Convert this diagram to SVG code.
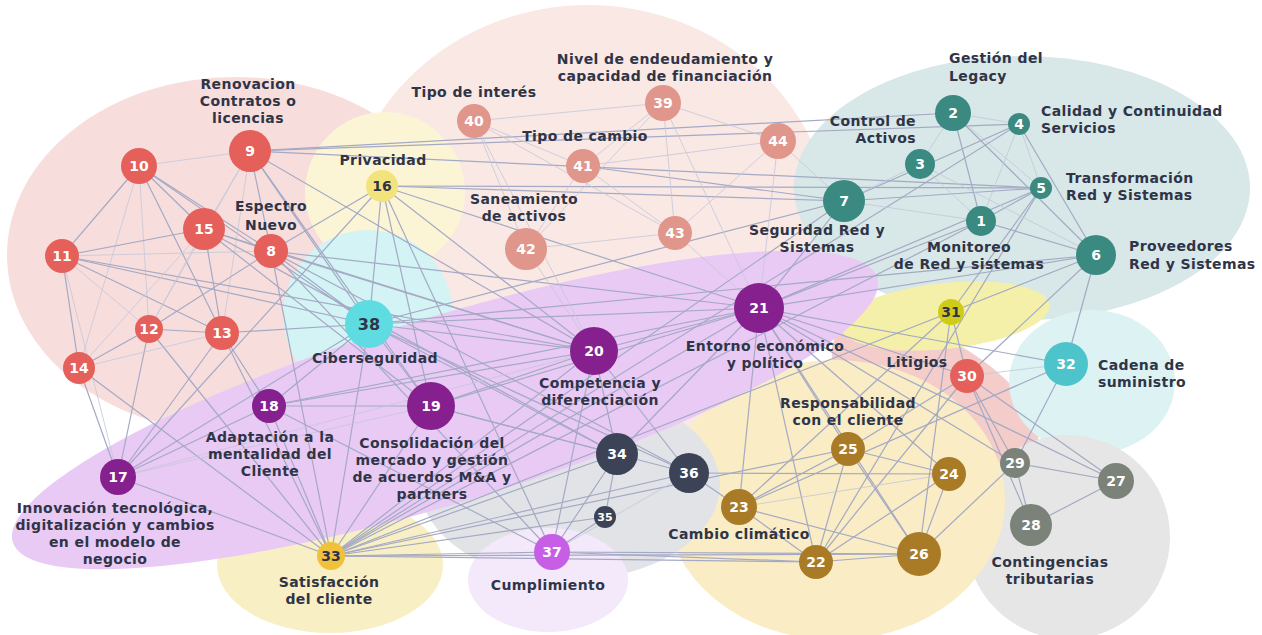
<svg xmlns="http://www.w3.org/2000/svg" width="1262" height="635" viewBox="0 0 1262 635">
<style>
.e{stroke:#a4a9c4;stroke-width:1.2;fill:none}
.f{stroke:#c4c7d9;stroke-width:0.8;fill:none}
.lbl{font-family:"DejaVu Sans","Liberation Sans",sans-serif;font-weight:700;font-size:14px;letter-spacing:0.4px;fill:#2f3447;text-anchor:middle}
.lft{text-anchor:start}
.rgt{text-anchor:end}
.num{font-family:"DejaVu Sans","Liberation Sans",sans-serif;font-weight:700;font-size:14px;fill:#ffffff;text-anchor:middle}
.dk{fill:#2f3447}
.red{fill:#e5605a}.sal{fill:#e0968b}.teal{fill:#3a8a82}.pur{fill:#86208f}.navy{fill:#3c4357}.gold{fill:#a97b27}.grey{fill:#7a8279}
</style>
<g id="backgrounds">
<ellipse cx="235" cy="255" rx="228" ry="178" fill="#f7dedd"/>
<ellipse cx="588" cy="235" rx="245" ry="230" fill="#fae8e5"/>
<ellipse cx="1022" cy="188" rx="228" ry="132" fill="#d8e7e7"/>
<circle cx="385" cy="192" r="80" fill="#fbf5d6"/>
<circle cx="368" cy="315" r="85" fill="#d3f3f5"/>
<ellipse cx="935" cy="395" rx="115" ry="55" transform="rotate(30 935 395)" fill="#f4cdcb"/>
<ellipse cx="945" cy="316" rx="105" ry="33" transform="rotate(-6 945 316)" fill="#f4f0aa"/>
<ellipse cx="1092" cy="382" rx="83" ry="72" fill="#dcf2f3"/>
<circle cx="1068" cy="537" r="102" fill="#e6e6e6"/>
<ellipse cx="835" cy="500" rx="170" ry="140" fill="#faecc4"/>
<ellipse cx="570" cy="485" rx="150" ry="95" fill="#e2e3e7"/>
<ellipse cx="548" cy="580" rx="80" ry="52" fill="#f3e9fa"/>
<ellipse cx="330" cy="565" rx="113" ry="68" fill="#f9efc4"/>
<ellipse cx="445" cy="410" rx="452" ry="93" transform="rotate(-17 445 410)" fill="#e9caf5"/>
</g>
<g id="connectors">
<line class="f" x1="139" y1="166" x2="250" y2="151"/>
<line class="e" x1="139" y1="166" x2="62" y2="256"/>
<line class="e" x1="139" y1="166" x2="204" y2="229"/>
<line class="e" x1="139" y1="166" x2="222" y2="333"/>
<line class="e" x1="139" y1="166" x2="271" y2="251"/>
<line class="f" x1="139" y1="166" x2="149" y2="329"/>
<line class="f" x1="139" y1="166" x2="79" y2="368"/>
<line class="e" x1="139" y1="166" x2="369" y2="324"/>
<line class="e" x1="250" y1="151" x2="271" y2="251"/>
<line class="f" x1="250" y1="151" x2="204" y2="229"/>
<line class="f" x1="250" y1="151" x2="149" y2="329"/>
<line class="f" x1="250" y1="151" x2="222" y2="333"/>
<line class="e" x1="250" y1="151" x2="1019" y2="124"/>
<line class="e" x1="250" y1="151" x2="1041" y2="188"/>
<line class="e" x1="250" y1="151" x2="594" y2="351"/>
<line class="e" x1="250" y1="151" x2="369" y2="324"/>
<line class="e" x1="250" y1="151" x2="431" y2="406"/>
<line class="e" x1="62" y1="256" x2="204" y2="229"/>
<line class="e" x1="62" y1="256" x2="222" y2="333"/>
<line class="f" x1="62" y1="256" x2="149" y2="329"/>
<line class="e" x1="62" y1="256" x2="79" y2="368"/>
<line class="e" x1="62" y1="256" x2="369" y2="324"/>
<line class="e" x1="62" y1="256" x2="594" y2="351"/>
<line class="f" x1="62" y1="256" x2="118" y2="477"/>
<line class="f" x1="62" y1="256" x2="271" y2="251"/>
<line class="e" x1="204" y1="229" x2="271" y2="251"/>
<line class="e" x1="204" y1="229" x2="222" y2="333"/>
<line class="f" x1="204" y1="229" x2="149" y2="329"/>
<line class="e" x1="204" y1="229" x2="431" y2="406"/>
<line class="e" x1="204" y1="229" x2="617" y2="454"/>
<line class="e" x1="204" y1="229" x2="594" y2="351"/>
<line class="f" x1="204" y1="229" x2="79" y2="368"/>
<line class="e" x1="271" y1="251" x2="149" y2="329"/>
<line class="e" x1="271" y1="251" x2="759" y2="308"/>
<line class="e" x1="271" y1="251" x2="369" y2="324"/>
<line class="e" x1="271" y1="251" x2="331" y2="556"/>
<line class="e" x1="271" y1="251" x2="594" y2="351"/>
<line class="e" x1="271" y1="251" x2="689" y2="473"/>
<line class="e" x1="271" y1="251" x2="552" y2="552"/>
<line class="e" x1="149" y1="329" x2="222" y2="333"/>
<line class="e" x1="149" y1="329" x2="79" y2="368"/>
<line class="e" x1="149" y1="329" x2="118" y2="477"/>
<line class="e" x1="149" y1="329" x2="331" y2="556"/>
<line class="e" x1="222" y1="333" x2="369" y2="324"/>
<line class="e" x1="222" y1="333" x2="118" y2="477"/>
<line class="e" x1="222" y1="333" x2="269" y2="406"/>
<line class="e" x1="222" y1="333" x2="331" y2="556"/>
<line class="f" x1="222" y1="333" x2="79" y2="368"/>
<line class="e" x1="79" y1="368" x2="118" y2="477"/>
<line class="e" x1="79" y1="368" x2="331" y2="556"/>
<line class="e" x1="382" y1="186" x2="369" y2="324"/>
<line class="e" x1="382" y1="186" x2="271" y2="251"/>
<line class="e" x1="382" y1="186" x2="118" y2="477"/>
<line class="e" x1="382" y1="186" x2="844" y2="201"/>
<line class="e" x1="382" y1="186" x2="1041" y2="188"/>
<line class="e" x1="382" y1="186" x2="594" y2="351"/>
<line class="e" x1="382" y1="186" x2="552" y2="552"/>
<line class="e" x1="382" y1="186" x2="431" y2="406"/>
<line class="e" x1="382" y1="186" x2="759" y2="308"/>
<line class="e" x1="369" y1="324" x2="594" y2="351"/>
<line class="e" x1="369" y1="324" x2="759" y2="308"/>
<line class="e" x1="369" y1="324" x2="844" y2="201"/>
<line class="e" x1="369" y1="324" x2="431" y2="406"/>
<line class="e" x1="369" y1="324" x2="331" y2="556"/>
<line class="e" x1="369" y1="324" x2="617" y2="454"/>
<line class="e" x1="369" y1="324" x2="689" y2="473"/>
<line class="e" x1="369" y1="324" x2="269" y2="406"/>
<line class="e" x1="269" y1="406" x2="118" y2="477"/>
<line class="e" x1="269" y1="406" x2="431" y2="406"/>
<line class="e" x1="269" y1="406" x2="331" y2="556"/>
<line class="e" x1="269" y1="406" x2="594" y2="351"/>
<line class="e" x1="269" y1="406" x2="759" y2="308"/>
<line class="e" x1="118" y1="477" x2="331" y2="556"/>
<line class="f" x1="118" y1="477" x2="594" y2="351"/>
<line class="f" x1="118" y1="477" x2="431" y2="406"/>
<line class="e" x1="118" y1="477" x2="369" y2="324"/>
<line class="e" x1="431" y1="406" x2="594" y2="351"/>
<line class="e" x1="431" y1="406" x2="331" y2="556"/>
<line class="e" x1="431" y1="406" x2="759" y2="308"/>
<line class="e" x1="431" y1="406" x2="689" y2="473"/>
<line class="e" x1="431" y1="406" x2="617" y2="454"/>
<line class="e" x1="594" y1="351" x2="759" y2="308"/>
<line class="e" x1="594" y1="351" x2="331" y2="556"/>
<line class="e" x1="594" y1="351" x2="617" y2="454"/>
<line class="e" x1="594" y1="351" x2="689" y2="473"/>
<line class="e" x1="594" y1="351" x2="552" y2="552"/>
<line class="f" x1="594" y1="351" x2="526" y2="249"/>
<line class="e" x1="759" y1="308" x2="844" y2="201"/>
<line class="e" x1="759" y1="308" x2="1066" y2="364"/>
<line class="e" x1="759" y1="308" x2="967" y2="376"/>
<line class="e" x1="759" y1="308" x2="1116" y2="481"/>
<line class="e" x1="759" y1="308" x2="919" y2="554"/>
<line class="e" x1="759" y1="308" x2="816" y2="562"/>
<line class="e" x1="759" y1="308" x2="739" y2="507"/>
<line class="e" x1="759" y1="308" x2="331" y2="556"/>
<line class="e" x1="759" y1="308" x2="1041" y2="188"/>
<line class="e" x1="759" y1="308" x2="1096" y2="255"/>
<line class="e" x1="759" y1="308" x2="949" y2="474"/>
<line class="e" x1="759" y1="308" x2="981" y2="221"/>
<line class="e" x1="759" y1="308" x2="848" y2="449"/>
<line class="e" x1="759" y1="308" x2="617" y2="454"/>
<line class="e" x1="759" y1="308" x2="1015" y2="463"/>
<line class="f" x1="759" y1="308" x2="675" y2="233"/>
<line class="f" x1="759" y1="308" x2="778" y2="141"/>
<line class="f" x1="953" y1="113" x2="1019" y2="124"/>
<line class="f" x1="953" y1="113" x2="920" y2="164"/>
<line class="e" x1="953" y1="113" x2="981" y2="221"/>
<line class="e" x1="953" y1="113" x2="1096" y2="255"/>
<line class="f" x1="953" y1="113" x2="1041" y2="188"/>
<line class="e" x1="953" y1="113" x2="250" y2="151"/>
<line class="f" x1="1019" y1="124" x2="1041" y2="188"/>
<line class="e" x1="1019" y1="124" x2="1096" y2="255"/>
<line class="e" x1="1019" y1="124" x2="844" y2="201"/>
<line class="f" x1="1019" y1="124" x2="981" y2="221"/>
<line class="e" x1="1019" y1="124" x2="331" y2="556"/>
<line class="e" x1="1041" y1="188" x2="844" y2="201"/>
<line class="e" x1="1041" y1="188" x2="981" y2="221"/>
<line class="e" x1="1041" y1="188" x2="951" y2="312"/>
<line class="e" x1="1041" y1="188" x2="816" y2="562"/>
<line class="e" x1="981" y1="221" x2="1096" y2="255"/>
<line class="f" x1="981" y1="221" x2="844" y2="201"/>
<line class="e" x1="981" y1="221" x2="331" y2="556"/>
<line class="e" x1="1096" y1="255" x2="1066" y2="364"/>
<line class="e" x1="1096" y1="255" x2="951" y2="312"/>
<line class="e" x1="1096" y1="255" x2="967" y2="376"/>
<line class="e" x1="1096" y1="255" x2="369" y2="324"/>
<line class="f" x1="920" y1="164" x2="981" y2="221"/>
<line class="f" x1="920" y1="164" x2="844" y2="201"/>
<line class="f" x1="920" y1="164" x2="1096" y2="255"/>
<line class="e" x1="844" y1="201" x2="331" y2="556"/>
<line class="e" x1="844" y1="201" x2="583" y2="166"/>
<line class="f" x1="844" y1="201" x2="778" y2="141"/>
<line class="e" x1="951" y1="312" x2="967" y2="376"/>
<line class="e" x1="951" y1="312" x2="331" y2="556"/>
<line class="e" x1="951" y1="312" x2="919" y2="554"/>
<line class="e" x1="951" y1="312" x2="739" y2="507"/>
<line class="e" x1="967" y1="376" x2="1015" y2="463"/>
<line class="e" x1="967" y1="376" x2="1031" y2="525"/>
<line class="e" x1="967" y1="376" x2="1116" y2="481"/>
<line class="e" x1="967" y1="376" x2="816" y2="562"/>
<line class="f" x1="967" y1="376" x2="1066" y2="364"/>
<line class="e" x1="967" y1="376" x2="848" y2="449"/>
<line class="e" x1="1066" y1="364" x2="1015" y2="463"/>
<line class="e" x1="1066" y1="364" x2="739" y2="507"/>
<line class="e" x1="1015" y1="463" x2="1116" y2="481"/>
<line class="e" x1="1015" y1="463" x2="1031" y2="525"/>
<line class="e" x1="1031" y1="525" x2="1116" y2="481"/>
<line class="e" x1="1015" y1="463" x2="919" y2="554"/>
<line class="e" x1="848" y1="449" x2="919" y2="554"/>
<line class="e" x1="848" y1="449" x2="816" y2="562"/>
<line class="e" x1="848" y1="449" x2="739" y2="507"/>
<line class="e" x1="848" y1="449" x2="949" y2="474"/>
<line class="e" x1="848" y1="449" x2="331" y2="556"/>
<line class="e" x1="739" y1="507" x2="919" y2="554"/>
<line class="e" x1="739" y1="507" x2="816" y2="562"/>
<line class="e" x1="816" y1="562" x2="919" y2="554"/>
<line class="e" x1="919" y1="554" x2="949" y2="474"/>
<line class="e" x1="949" y1="474" x2="689" y2="473"/>
<line class="e" x1="919" y1="554" x2="331" y2="556"/>
<line class="e" x1="816" y1="562" x2="331" y2="556"/>
<line class="e" x1="816" y1="562" x2="552" y2="552"/>
<line class="e" x1="919" y1="554" x2="552" y2="552"/>
<line class="f" x1="949" y1="474" x2="739" y2="507"/>
<line class="e" x1="949" y1="474" x2="816" y2="562"/>
<line class="e" x1="739" y1="507" x2="689" y2="473"/>
<line class="e" x1="617" y1="454" x2="605" y2="517"/>
<line class="e" x1="617" y1="454" x2="552" y2="552"/>
<line class="e" x1="617" y1="454" x2="331" y2="556"/>
<line class="e" x1="689" y1="473" x2="331" y2="556"/>
<line class="e" x1="605" y1="517" x2="552" y2="552"/>
<line class="e" x1="605" y1="517" x2="331" y2="556"/>
<line class="f" x1="689" y1="473" x2="552" y2="552"/>
<line class="e" x1="552" y1="552" x2="331" y2="556"/>
<line class="e" x1="552" y1="552" x2="269" y2="406"/>
<line class="f" x1="474" y1="121" x2="663" y2="103"/>
<line class="f" x1="474" y1="121" x2="583" y2="166"/>
<line class="f" x1="474" y1="121" x2="526" y2="249"/>
<line class="f" x1="663" y1="103" x2="675" y2="233"/>
<line class="f" x1="663" y1="103" x2="778" y2="141"/>
<line class="f" x1="663" y1="103" x2="583" y2="166"/>
<line class="f" x1="583" y1="166" x2="675" y2="233"/>
<line class="f" x1="583" y1="166" x2="526" y2="249"/>
<line class="f" x1="526" y1="249" x2="675" y2="233"/>
<line class="f" x1="778" y1="141" x2="675" y2="233"/>
<line class="f" x1="474" y1="121" x2="675" y2="233"/>
<line class="f" x1="663" y1="103" x2="526" y2="249"/>
<line class="f" x1="778" y1="141" x2="583" y2="166"/>
<line class="f" x1="663" y1="103" x2="759" y2="308"/>
<line class="f" x1="474" y1="121" x2="594" y2="351"/>
</g>
<g id="n1"><circle cx="981" cy="221" r="15" class="teal"/><text x="981" y="226" class="num">1</text></g>
<g id="n2"><circle cx="953" cy="113" r="18" class="teal"/><text x="953" y="118" class="num">2</text></g>
<g id="n3"><circle cx="920" cy="164" r="15" class="teal"/><text x="920" y="169" class="num">3</text></g>
<g id="n4"><circle cx="1019" cy="124" r="11" class="teal"/><text x="1019" y="129" class="num">4</text></g>
<g id="n5"><circle cx="1041" cy="188" r="11" class="teal"/><text x="1041" y="193" class="num">5</text></g>
<g id="n6"><circle cx="1096" cy="255" r="20" class="teal"/><text x="1096" y="260" class="num">6</text></g>
<g id="n7"><circle cx="844" cy="201" r="21" class="teal"/><text x="844" y="206" class="num">7</text></g>
<g id="n8"><circle cx="271" cy="251" r="17" class="red"/><text x="271" y="256" class="num">8</text></g>
<g id="n9"><circle cx="250" cy="151" r="21" class="red"/><text x="250" y="156" class="num">9</text></g>
<g id="n10"><circle cx="139" cy="166" r="18" class="red"/><text x="139" y="171" class="num">10</text></g>
<g id="n11"><circle cx="62" cy="256" r="17" class="red"/><text x="62" y="261" class="num">11</text></g>
<g id="n12"><circle cx="149" cy="329" r="14" class="red"/><text x="149" y="334" class="num">12</text></g>
<g id="n13"><circle cx="222" cy="333" r="17" class="red"/><text x="222" y="338" class="num">13</text></g>
<g id="n14"><circle cx="79" cy="368" r="16" class="red"/><text x="79" y="373" class="num">14</text></g>
<g id="n15"><circle cx="204" cy="229" r="21" class="red"/><text x="204" y="234" class="num">15</text></g>
<g id="n16"><circle cx="382" cy="186" r="16" fill="#f2e37c"/><text x="382" y="191" class="num dk">16</text></g>
<g id="n17"><circle cx="118" cy="477" r="18" class="pur"/><text x="118" y="482" class="num">17</text></g>
<g id="n18"><circle cx="269" cy="406" r="17" class="pur"/><text x="269" y="411" class="num">18</text></g>
<g id="n19"><circle cx="431" cy="406" r="24" class="pur"/><text x="431" y="411" class="num">19</text></g>
<g id="n20"><circle cx="594" cy="351" r="24" class="pur"/><text x="594" y="356" class="num">20</text></g>
<g id="n21"><circle cx="759" cy="308" r="25" class="pur"/><text x="759" y="313" class="num">21</text></g>
<g id="n22"><circle cx="816" cy="562" r="17" class="gold"/><text x="816" y="567" class="num">22</text></g>
<g id="n23"><circle cx="739" cy="507" r="18" class="gold"/><text x="739" y="512" class="num">23</text></g>
<g id="n24"><circle cx="949" cy="474" r="17" class="gold"/><text x="949" y="479" class="num">24</text></g>
<g id="n25"><circle cx="848" cy="449" r="17" class="gold"/><text x="848" y="454" class="num">25</text></g>
<g id="n26"><circle cx="919" cy="554" r="22" class="gold"/><text x="919" y="559" class="num">26</text></g>
<g id="n27"><circle cx="1116" cy="481" r="18" class="grey"/><text x="1116" y="486" class="num">27</text></g>
<g id="n28"><circle cx="1031" cy="525" r="21" class="grey"/><text x="1031" y="530" class="num">28</text></g>
<g id="n29"><circle cx="1015" cy="463" r="15" class="grey"/><text x="1015" y="468" class="num">29</text></g>
<g id="n30"><circle cx="967" cy="376" r="17" class="red"/><text x="967" y="381" class="num">30</text></g>
<g id="n31"><circle cx="951" cy="312" r="13" fill="#cfcc17"/><text x="951" y="317" class="num dk">31</text></g>
<g id="n32"><circle cx="1066" cy="364" r="22" fill="#4dc4cc"/><text x="1066" y="369" class="num">32</text></g>
<g id="n33"><circle cx="331" cy="556" r="14" fill="#f0c23c"/><text x="331" y="561" class="num dk">33</text></g>
<g id="n34"><circle cx="617" cy="454" r="21" class="navy"/><text x="617" y="459" class="num">34</text></g>
<g id="n35"><circle cx="605" cy="517" r="11" class="navy"/><text x="605" y="521" class="num" style="font-size:11px">35</text></g>
<g id="n36"><circle cx="689" cy="473" r="20" class="navy"/><text x="689" y="478" class="num">36</text></g>
<g id="n37"><circle cx="552" cy="552" r="18" fill="#c65ee6"/><text x="552" y="557" class="num">37</text></g>
<g id="n38"><circle cx="369" cy="324" r="24" fill="#5fdbe2"/><text x="369" y="330" class="num dk" style="font-size:16px">38</text></g>
<g id="n39"><circle cx="663" cy="103" r="18" class="sal"/><text x="663" y="108" class="num">39</text></g>
<g id="n40"><circle cx="474" cy="121" r="17" class="sal"/><text x="474" y="126" class="num">40</text></g>
<g id="n41"><circle cx="583" cy="166" r="17" class="sal"/><text x="583" y="171" class="num">41</text></g>
<g id="n42"><circle cx="526" cy="249" r="21" class="sal"/><text x="526" y="254" class="num">42</text></g>
<g id="n43"><circle cx="675" cy="233" r="17" class="sal"/><text x="675" y="238" class="num">43</text></g>
<g id="n44"><circle cx="778" cy="141" r="18" class="sal"/><text x="778" y="146" class="num">44</text></g>
<g id="labels">
<text class="lbl" x="248" y="89">Renovacion</text>
<text class="lbl" x="248" y="106">Contratos o</text>
<text class="lbl" x="248" y="123">licencias</text>
<text class="lbl" x="271" y="211">Espectro</text>
<text class="lbl" x="271" y="230">Nuevo</text>
<text class="lbl" x="383" y="165">Privacidad</text>
<text class="lbl" x="474" y="97">Tipo de interés</text>
<text class="lbl" x="665" y="64">Nivel de endeudamiento y</text>
<text class="lbl" x="665" y="81">capacidad de financiación</text>
<text class="lbl" x="585" y="141">Tipo de cambio</text>
<text class="lbl" x="524" y="204">Saneamiento</text>
<text class="lbl" x="524" y="221">de activos</text>
<text class="lbl" x="817" y="235">Seguridad Red y</text>
<text class="lbl" x="817" y="252">Sistemas</text>
<text class="lbl lft" x="949" y="63">Gestión del</text>
<text class="lbl lft" x="949" y="81">Legacy</text>
<text class="lbl rgt" x="916" y="126">Control de</text>
<text class="lbl rgt" x="916" y="143">Activos</text>
<text class="lbl lft" x="1041" y="116">Calidad y Continuidad</text>
<text class="lbl lft" x="1041" y="133">Servicios</text>
<text class="lbl lft" x="1066" y="183">Transformación</text>
<text class="lbl lft" x="1066" y="200">Red y Sistemas</text>
<text class="lbl" x="969" y="252">Monitoreo</text>
<text class="lbl" x="969" y="269">de Red y sistemas</text>
<text class="lbl lft" x="1129" y="251">Proveedores</text>
<text class="lbl lft" x="1129" y="269">Red y Sistemas</text>
<text class="lbl" x="375" y="363">Ciberseguridad</text>
<text class="lbl" x="765" y="351">Entorno económico</text>
<text class="lbl" x="765" y="368">y político</text>
<text class="lbl" x="600" y="388">Competencia y</text>
<text class="lbl" x="600" y="405">diferenciación</text>
<text class="lbl" x="270" y="442">Adaptación a la</text>
<text class="lbl" x="270" y="459">mentalidad del</text>
<text class="lbl" x="270" y="476">Cliente</text>
<text class="lbl" x="432" y="448">Consolidación del</text>
<text class="lbl" x="432" y="465">mercado y gestión</text>
<text class="lbl" x="432" y="482">de acuerdos M&amp;A y</text>
<text class="lbl" x="432" y="499">partners</text>
<text class="lbl" x="115" y="513">Innovación tecnológica,</text>
<text class="lbl" x="115" y="530">digitalización y cambios</text>
<text class="lbl" x="115" y="547">en el modelo de</text>
<text class="lbl" x="115" y="564">negocio</text>
<text class="lbl" x="329" y="587">Satisfacción</text>
<text class="lbl" x="329" y="604">del cliente</text>
<text class="lbl" x="548" y="590">Cumplimiento</text>
<text class="lbl" x="739" y="539">Cambio climático</text>
<text class="lbl" x="848" y="408">Responsabilidad</text>
<text class="lbl" x="848" y="425">con el cliente</text>
<text class="lbl" x="917" y="367">Litigios</text>
<text class="lbl lft" x="1098" y="370">Cadena de</text>
<text class="lbl lft" x="1098" y="387">suministro</text>
<text class="lbl" x="1050" y="567">Contingencias</text>
<text class="lbl" x="1050" y="584">tributarias</text>
</g>
</svg>
